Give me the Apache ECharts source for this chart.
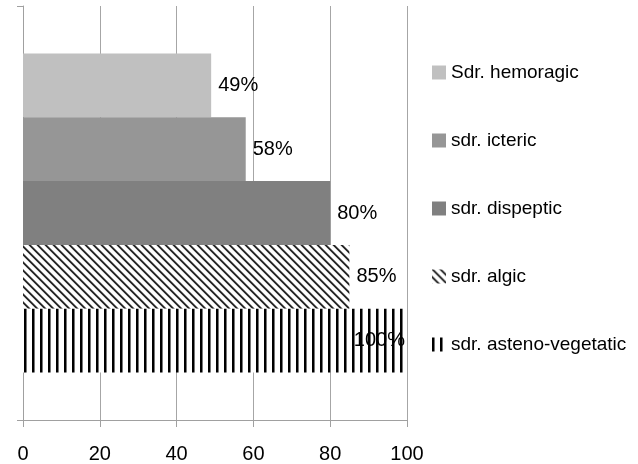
<!DOCTYPE html>
<html>
<head>
<meta charset="utf-8">
<script src="https://cdn.jsdelivr.net/npm/echarts@6/dist/echarts.min.js"></script>
<style>
html,body{margin:0;padding:0;background:#fff;}
#chart{width:638px;height:464px;}
</style>
</head>
<body>
<div id="chart"></div>
<script>
// Data
const categories = [''];
const seriesNames = ['Sdr. hemoragic', 'sdr. icteric', 'sdr. dispeptic', 'sdr. algic', 'sdr. asteno-vegetatic'];
const seriesValues = [49, 58, 80, 85, 100];
const xTicks = [0, 20, 40, 60, 80, 100];

function makeDiagonal() {
  const c = document.createElement('canvas');
  c.width = 8; c.height = 8;
  const ctx = c.getContext('2d');
  const img = ctx.createImageData(8, 8);
  for (let y = 0; y < 8; y++) {
    for (let x = 0; x < 8; x++) {
      const d = ((x - y) % 8 + 8) % 8;
      let v = 255;
      if (d < 2) v = 40;
      else if (d === 2) v = 150;
      else if (d === 7) v = 200;
      const i = (y * 8 + x) * 4;
      img.data[i] = v; img.data[i + 1] = v; img.data[i + 2] = v; img.data[i + 3] = 255;
    }
  }
  ctx.putImageData(img, 0, 0);
  return c;
}
function makeVertical() {
  const c = document.createElement('canvas');
  c.width = 8; c.height = 8;
  const ctx = c.getContext('2d');
  ctx.fillStyle = '#fff';
  ctx.fillRect(0, 0, 8, 8);
  ctx.fillStyle = '#000';
  ctx.fillRect(0, 0, 2, 8);
  ctx.fillStyle = '#777';
  ctx.fillRect(2, 0, 1, 8);
  return c;
}

const fills = [
  '#c0c0c0',
  '#969696',
  '#808080',
  { image: makeDiagonal(), repeat: 'repeat' },
  { image: makeVertical(), repeat: 'repeat' }
];

const FONT = "'Liberation Sans', Arial, sans-serif";

const series = seriesNames.map((name, i) => ({
  name: name,
  type: 'bar',
  barGap: '0%',
  barCategoryGap: '23%',
  data: [seriesValues[i]],
  itemStyle: { color: fills[i] },
  label: {
    show: true,
    position: seriesValues[i] >= 100 ? 'insideRight' : 'right',
    distance: seriesValues[i] >= 100 ? 2 : 7,
    formatter: '{c}%',
    color: '#000',
    fontSize: 20,
    fontFamily: FONT
  },
  emphasis: { disabled: true }
}));

const chart = echarts.init(document.getElementById('chart'), null, { renderer: 'canvas' });
chart.setOption({
  animation: false,
  backgroundColor: '#fff',
  grid: { left: 23, right: 231, top: 6, bottom: 42, containLabel: false },
  xAxis: {
    type: 'value',
    min: xTicks[0],
    max: xTicks[xTicks.length - 1],
    interval: xTicks[1] - xTicks[0],
    axisLine: { show: true, lineStyle: { color: '#a0a0a0', width: 1 } },
    axisTick: { show: true, length: 7, lineStyle: { color: '#a0a0a0' } },
    splitLine: { show: true, lineStyle: { color: '#a6a6a6', width: 1 } },
    axisLabel: { color: '#000', fontSize: 20, fontFamily: FONT, margin: 24 }
  },
  yAxis: {
    type: 'category',
    data: categories,
    axisLine: { show: true, lineStyle: { color: '#a0a0a0', width: 1 } },
    axisTick: { show: true, length: 6, lineStyle: { color: '#a0a0a0' } },
    axisLabel: { show: false },
    splitLine: { show: false }
  },
  legend: {
    orient: 'vertical',
    left: 427,
    top: 58,
    itemGap: 49,
    itemWidth: 14,
    itemHeight: 14,
    icon: 'rect',
    data: seriesNames,
    textStyle: { color: '#000', fontSize: 19, fontFamily: FONT },
    selectedMode: false
  },
  series: series
});
</script>
</body>
</html>
